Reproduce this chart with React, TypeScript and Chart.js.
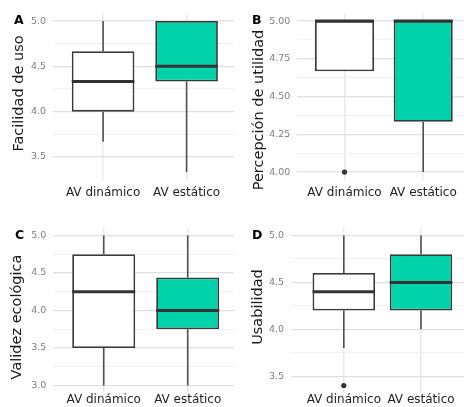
import React, { useEffect, useRef } from 'react';
import { Chart, registerables } from 'chart.js';

Chart.register(...registerables);
Chart.defaults.font.family = "'DejaVu Sans', sans-serif";

const categories = ['AV dinámico', 'AV estático'];
const boxFills = ['#ffffff', '#00d2a9'];

// A: Facilidad de uso
const facilidadLow = [3.667, 3.333];
const facilidadQ1 = [4.0, 4.333];
const facilidadMedian = [4.333, 4.5];
const facilidadQ3 = [4.667, 5.0];
const facilidadHigh = [5.0, 5.0];
const facilidadOutliers: number[][] = [[], []];
const facilidadTicks = [3.5, 4.0, 4.5, 5.0];

// B: Percepción de utilidad
const utilidadLow = [4.667, 4.0];
const utilidadQ1 = [4.667, 4.333];
const utilidadMedian = [5.0, 5.0];
const utilidadQ3 = [5.0, 5.0];
const utilidadHigh = [5.0, 5.0];
const utilidadOutliers: number[][] = [[4.0], []];
const utilidadTicks = [4.0, 4.25, 4.5, 4.75, 5.0];

// C: Validez ecológica
const validezLow = [3.0, 3.0];
const validezQ1 = [3.5, 3.75];
const validezMedian = [4.25, 4.0];
const validezQ3 = [4.75, 4.44];
const validezHigh = [5.0, 5.0];
const validezOutliers: number[][] = [[], []];
const validezTicks = [3.0, 3.5, 4.0, 4.5, 5.0];

// D: Usabilidad
const usabilidadLow = [3.8, 4.0];
const usabilidadQ1 = [4.2, 4.2];
const usabilidadMedian = [4.4, 4.5];
const usabilidadQ3 = [4.6, 4.8];
const usabilidadHigh = [5.0, 5.0];
const usabilidadOutliers: number[][] = [[3.4], []];
const usabilidadTicks = [3.5, 4.0, 4.5, 5.0];

type Panel = {
  tag: string;
  title: string;
  low: number[];
  q1: number[];
  median: number[];
  q3: number[];
  high: number[];
  outliers: number[][];
  ticks: number[];
  decimals: number;
  left: number;
  top: number;
  width: number;
  height: number;
  plotLeft: number;
  plotTop: number;
  plotBottom: number;
  xMin: number;
  xMax: number;
  boxPct: number;
  labelPad: number;
  tagX: number;
  tagY: number;
  titleX: number;
  titleY: number;
};

const panels: Panel[] = [
  {
    tag: 'A', title: 'Facilidad de uso',
    low: facilidadLow, q1: facilidadQ1, median: facilidadMedian, q3: facilidadQ3, high: facilidadHigh,
    outliers: facilidadOutliers, ticks: facilidadTicks, decimals: 1,
    left: 0, top: 0, width: 234, height: 204,
    plotLeft: 53, plotTop: 13.5, plotBottom: 179.6,
    xMin: 0.4, xMax: 2.568, boxPct: 0.75, labelPad: 6.5,
    tagX: 14, tagY: 24, titleX: 19, titleY: 93.5,
  },
  {
    tag: 'B', title: 'Percepción de utilidad',
    low: utilidadLow, q1: utilidadQ1, median: utilidadMedian, q3: utilidadQ3, high: utilidadHigh,
    outliers: utilidadOutliers, ticks: utilidadTicks, decimals: 2,
    left: 234, top: 0, width: 234, height: 204,
    plotLeft: 63.3, plotTop: 13.5, plotBottom: 179.6,
    xMin: 0.4, xMax: 2.518, boxPct: 0.75, labelPad: 6.5,
    tagX: 18, tagY: 23.5, titleX: 25.5, titleY: 110,
  },
  {
    tag: 'C', title: 'Validez ecológica',
    low: validezLow, q1: validezQ1, median: validezMedian, q3: validezQ3, high: validezHigh,
    outliers: validezOutliers, ticks: validezTicks, decimals: 1,
    left: 0, top: 204, width: 234, height: 203,
    plotLeft: 53.3, plotTop: 24, plotBottom: 189,
    xMin: 0.4, xMax: 2.551, boxPct: 0.75, labelPad: 0,
    tagX: 15, tagY: 34.5, titleX: 17.5, titleY: 113,
  },
  {
    tag: 'D', title: 'Usabilidad',
    low: usabilidadLow, q1: usabilidadQ1, median: usabilidadMedian, q3: usabilidadQ3, high: usabilidadHigh,
    outliers: usabilidadOutliers, ticks: usabilidadTicks, decimals: 1,
    left: 234, top: 204, width: 234, height: 203,
    plotLeft: 57, plotTop: 24, plotBottom: 189,
    xMin: 0.316, xMax: 2.557, boxPct: 0.81, labelPad: 0,
    tagX: 18, tagY: 34.5, titleX: 24, titleY: 103,
  },
];

function BoxPanel({ p }: { p: Panel }) {
  const ref = useRef<HTMLCanvasElement | null>(null);

  useEffect(() => {
    const canvas = ref.current;
    if (!canvas) return;

    const all = [...p.low, ...p.high, ...p.outliers.flat()];
    const lo = Math.min(...all);
    const hi = Math.max(...all);
    const pad = (hi - lo) * 0.05;
    const yMin = lo - pad;
    const yMax = hi + pad;

    const minors: number[] = [];
    for (let i = 0; i < p.ticks.length - 1; i++) minors.push((p.ticks[i] + p.ticks[i + 1]) / 2);
    const allTicks = [...p.ticks, ...minors].sort((a, b) => a - b);
    const isMajor = (v: number) => p.ticks.some((t) => Math.abs(t - v) < 1e-6);

    const outlierPoints = p.outliers.flatMap((arr, i) => arr.map((v) => ({ x: i + 1, y: v })));

    const boxParts = {
      id: 'boxParts',
      beforeDatasetsDraw(chart: any) {
        const { ctx, scales } = chart;
        const xs = scales.x;
        const ys = scales.y;
        ctx.save();
        ctx.strokeStyle = '#505050';
        ctx.lineWidth = 1.6;
        categories.forEach((_, i) => {
          const x = xs.getPixelForValue(i + 1);
          ctx.beginPath();
          ctx.moveTo(x, ys.getPixelForValue(p.low[i]));
          ctx.lineTo(x, ys.getPixelForValue(p.q1[i]));
          ctx.moveTo(x, ys.getPixelForValue(p.q3[i]));
          ctx.lineTo(x, ys.getPixelForValue(p.high[i]));
          ctx.stroke();
        });
        ctx.restore();
      },
      afterDatasetsDraw(chart: any) {
        const { ctx, scales } = chart;
        const ys = scales.y;
        const meta = chart.getDatasetMeta(0);
        ctx.save();
        ctx.strokeStyle = '#333333';
        ctx.lineWidth = 3;
        meta.data.forEach((bar: any, i: number) => {
          const { x, width } = bar.getProps(['x', 'width'], true);
          const y = ys.getPixelForValue(p.median[i]);
          ctx.beginPath();
          ctx.moveTo(x - width / 2, y);
          ctx.lineTo(x + width / 2, y);
          ctx.stroke();
        });
        ctx.restore();
      },
      afterDraw(chart: any) {
        const { ctx } = chart;
        ctx.save();
        ctx.fillStyle = '#000000';
        ctx.font = "bold 12.5px 'DejaVu Sans', sans-serif";
        ctx.textAlign = 'left';
        ctx.textBaseline = 'alphabetic';
        ctx.fillText(p.tag, p.tagX, p.tagY);
        ctx.translate(p.titleX, p.titleY);
        ctx.rotate(-Math.PI / 2);
        ctx.font = "14.5px 'DejaVu Sans', sans-serif";
        ctx.fillStyle = '#1a1a1a';
        ctx.textAlign = 'center';
        ctx.textBaseline = 'middle';
        ctx.fillText(p.title, 0, 0);
        ctx.restore();
      },
    };

    const chart = new Chart(canvas, {
      type: 'bar',
      data: {
        datasets: [
          {
            type: 'bar',
            data: categories.map((_, i) => ({ x: i + 1, y: [p.q1[i], p.q3[i]] })) as any,
            backgroundColor: boxFills,
            borderColor: '#3a3a3a',
            borderWidth: 1.8,
            borderSkipped: false,
            barPercentage: 1,
            categoryPercentage: p.boxPct,
          } as any,
          {
            type: 'scatter',
            data: outlierPoints,
            pointRadius: 2.6,
            pointBackgroundColor: '#333333',
            pointBorderWidth: 0,
          } as any,
        ],
      },
      options: {
        animation: false,
        responsive: false,
        devicePixelRatio: 1,
        layout: { padding: { top: p.plotTop, left: 0, right: 0, bottom: 0 } },
        plugins: { legend: { display: false }, tooltip: { enabled: false } },
        events: [],
        scales: {
          x: {
            type: 'linear',
            min: p.xMin,
            max: p.xMax,
            offset: false,
            afterBuildTicks: (s: any) => {
              s.ticks = categories.map((_, i) => ({ value: i + 1 }));
            },
            afterFit: (s: any) => {
              s.height = p.height - p.plotBottom;
            },
            ticks: {
              autoSkip: false,
              maxRotation: 0,
              minRotation: 0,
              padding: p.labelPad,
              color: '#1f1f1f',
              font: { size: 12 },
              callback: (v: any) => categories[Math.round(Number(v)) - 1] ?? '',
            },
            grid: { offset: false, drawTicks: false, color: '#e9e9e9', lineWidth: 1.5 },
            border: { display: false },
          } as any,
          y: {
            type: 'linear',
            min: yMin,
            max: yMax,
            afterBuildTicks: (s: any) => {
              s.ticks = allTicks.map((v) => ({ value: v }));
            },
            afterFit: (s: any) => {
              s.width = p.plotLeft;
            },
            ticks: {
              autoSkip: false,
              padding: 7,
              color: '#7f7f7f',
              font: { size: 9.5 },
              callback: (v: any) => (isMajor(Number(v)) ? Number(v).toFixed(p.decimals) : ''),
            },
            grid: {
              drawTicks: false,
              color: (c: any) => (c.tick && isMajor(c.tick.value) ? '#e0e0e0' : '#eeeeee'),
              lineWidth: (c: any) => (c.tick && isMajor(c.tick.value) ? 1.2 : 0.8),
            },
            border: { display: false },
          } as any,
        },
      } as any,
      plugins: [boxParts],
    });

    return () => chart.destroy();
  }, [p]);

  return (
    <canvas
      ref={ref}
      width={p.width}
      height={p.height}
      style={{ position: 'absolute', left: p.left, top: p.top, width: p.width, height: p.height }}
    />
  );
}

export default function App() {
  return (
    <div style={{ position: 'absolute', left: 0, top: 0, width: 468, height: 407, background: '#ffffff', overflow: 'hidden' }}>
      {panels.map((p) => (
        <BoxPanel key={p.tag} p={p} />
      ))}
    </div>
  );
}
